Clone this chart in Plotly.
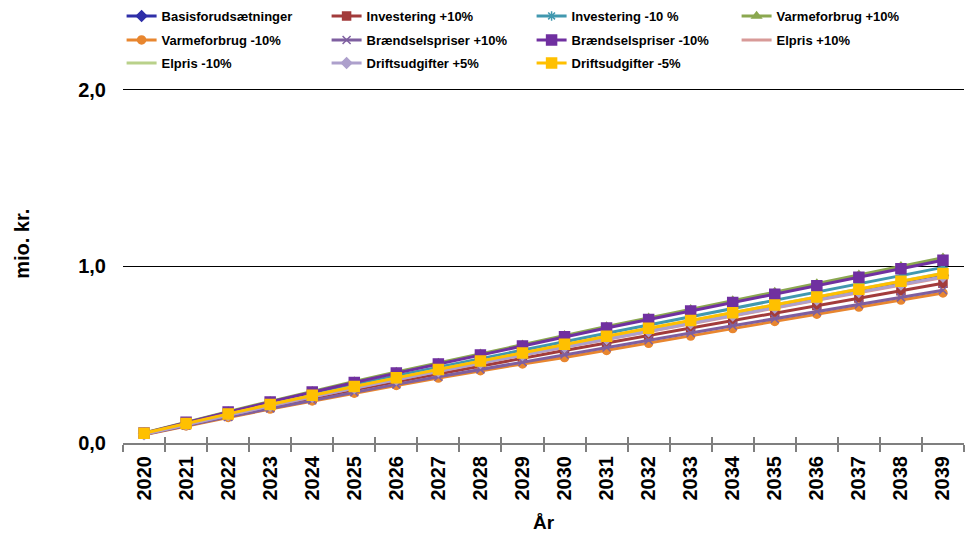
import plotly.graph_objects as go

years = [str(y) for y in range(2020, 2040)]

basis = [0.052, 0.108, 0.162, 0.214, 0.266, 0.315, 0.364, 0.411, 0.458, 0.504,
         0.550, 0.594, 0.639, 0.684, 0.729, 0.773, 0.818, 0.862, 0.906, 0.950]
inv_plus = [0.050, 0.103, 0.154, 0.204, 0.254, 0.301, 0.347, 0.392, 0.437, 0.480,
            0.524, 0.566, 0.609, 0.652, 0.695, 0.737, 0.779, 0.821, 0.863, 0.905]
inv_minus = [0.054, 0.112, 0.169, 0.223, 0.278, 0.330, 0.381, 0.430, 0.479, 0.527,
             0.575, 0.622, 0.669, 0.716, 0.764, 0.810, 0.857, 0.903, 0.949, 0.995]
varme_plus = [0.057, 0.119, 0.178, 0.236, 0.293, 0.348, 0.402, 0.454, 0.506, 0.557,
              0.610, 0.660, 0.709, 0.758, 0.807, 0.855, 0.904, 0.953, 1.001, 1.050]
varme_minus = [0.047, 0.097, 0.145, 0.192, 0.238, 0.282, 0.326, 0.368, 0.410, 0.448,
               0.484, 0.524, 0.565, 0.606, 0.648, 0.689, 0.730, 0.770, 0.810, 0.850]
braendsel_plus = [0.048, 0.099, 0.148, 0.195, 0.242, 0.287, 0.332, 0.375, 0.417, 0.459,
                  0.501, 0.541, 0.582, 0.623, 0.664, 0.704, 0.745, 0.785, 0.825, 0.865]
braendsel_minus = [0.056, 0.117, 0.175, 0.232, 0.289, 0.343, 0.396, 0.448, 0.499, 0.550,
                   0.602, 0.652, 0.700, 0.748, 0.796, 0.843, 0.891, 0.939, 0.987, 1.035]
elpris_plus = [0.051, 0.106, 0.159, 0.211, 0.262, 0.311, 0.359, 0.406, 0.452, 0.497,
               0.542, 0.587, 0.631, 0.675, 0.720, 0.763, 0.808, 0.851, 0.895, 0.938]
elpris_minus = [0.053, 0.109, 0.164, 0.217, 0.269, 0.319, 0.368, 0.417, 0.464, 0.510,
                0.557, 0.602, 0.648, 0.693, 0.738, 0.783, 0.828, 0.873, 0.918, 0.962]
drift_plus = [0.050, 0.105, 0.159, 0.211, 0.262, 0.311, 0.360, 0.407, 0.453, 0.499,
              0.544, 0.589, 0.633, 0.678, 0.723, 0.766, 0.811, 0.855, 0.898, 0.942]
drift_minus = [0.055, 0.111, 0.165, 0.218, 0.270, 0.320, 0.369, 0.417, 0.464, 0.510,
               0.559, 0.605, 0.650, 0.694, 0.738, 0.782, 0.827, 0.871, 0.916, 0.960]

series = [
    ("Basisforudsætninger", basis, "#2F2FA8", "diamond", 8, "legend"),
    ("Investering +10%", inv_plus, "#A23B3B", "square", 8, "legend"),
    ("Investering -10 %", inv_minus, "#4198AF", "asterisk-open", 8, "legend"),
    ("Varmeforbrug +10%", varme_plus, "#8BA850", "triangle-up", 8, "legend"),
    ("Varmeforbrug -10%", varme_minus, "#E8862F", "circle", 8, "legend2"),
    ("Brændselspriser +10%", braendsel_plus, "#7E5FA0", "x-thin-open", 8, "legend2"),
    ("Brændselspriser -10%", braendsel_minus, "#7030A0", "square", 10, "legend2"),
    ("Elpris +10%", elpris_plus, "#D89A98", None, 0, "legend2"),
    ("Elpris -10%", elpris_minus, "#B9D18A", None, 0, "legend3"),
    ("Driftsudgifter +5%", drift_plus, "#ADA0CC", "diamond", 8, "legend3"),
    ("Driftsudgifter -5%", drift_minus, "#FFC000", "square", 10, "legend3"),
]

fig = go.Figure()
for name, vals, color, sym, size, leg in series:
    if sym is None:
        mode = "lines"
        marker = dict()
    else:
        mode = "lines+markers"
        marker = dict(symbol=sym, size=size, color=color,
                      line=dict(color=color, width=1.5))
    fig.add_trace(go.Scatter(x=years, y=vals, name=name, mode=mode,
                             line=dict(color=color, width=3), marker=marker,
                             legend=leg))

# invisible trace on an overlay axis to draw the inner half of crossing ticks
fig.add_trace(go.Scatter(x=years, y=basis, xaxis="x2", mode="lines",
                         line=dict(width=0), opacity=0, showlegend=False,
                         hoverinfo="skip"))

FONT = "Liberation Sans, Arial, sans-serif"

def leg(y):
    return dict(orientation="h", xref="container", yref="container",
                x=0.126, y=y, xanchor="left", yanchor="middle",
                entrywidth=160, entrywidthmode="pixels",
                font=dict(family=FONT, size=13, color="black", weight="bold"),
                bgcolor="rgba(0,0,0,0)", itemclick=False, traceorder="normal")

fig.update_layout(
    width=965, height=541,
    margin=dict(l=123, r=1, t=85, b=98),
    paper_bgcolor="white", plot_bgcolor="white",
    separators=",.",
    font=dict(family=FONT, color="black"),
    showlegend=True,
    legend=leg(1 - 16 / 541),
    legend2=leg(1 - 40 / 541),
    legend3=leg(1 - 63 / 541),
    xaxis=dict(
        type="category", range=[-0.5, 19.5],
        tickangle=-90, tickson="boundaries", ticks="outside", ticklen=7,
        tickcolor="#7F7F7F", tickwidth=1.5, showline=True, linecolor="#7F7F7F", linewidth=2,
        showgrid=False, zeroline=False, ticklabelstandoff=3,
        tickfont=dict(family=FONT, size=20, color="black", weight="bold"),
        title=dict(text="År", font=dict(family=FONT, size=19, color="black", weight="bold"),
                   standoff=16),
    ),
    xaxis2=dict(
        type="category", range=[-0.5, 19.5], overlaying="x", side="bottom",
        tickson="boundaries", ticks="inside", ticklen=6, tickcolor="#7F7F7F", tickwidth=1.5,
        showticklabels=False, showline=False, showgrid=False, zeroline=False,
    ),
    yaxis=dict(
        range=[0, 2.011], tickvals=[0, 1, 2], tickformat=".1f",
        showgrid=True, gridcolor="black", gridwidth=1,
        zeroline=False, showline=False, ticks="",
        tickfont=dict(family=FONT, size=20, color="black", weight="bold"),
        ticklabelstandoff=16,
    ),
    annotations=[dict(text="mio. kr.", xref="paper", yref="paper",
                      x=-123 / 842 + 22 / 842, xanchor="center",
                      y=(443 - 242) / 358, yanchor="middle", textangle=-90,
                      showarrow=False,
                      font=dict(family=FONT, size=20, color="black", weight="bold"))],
)

fig.write_html("out.html")
